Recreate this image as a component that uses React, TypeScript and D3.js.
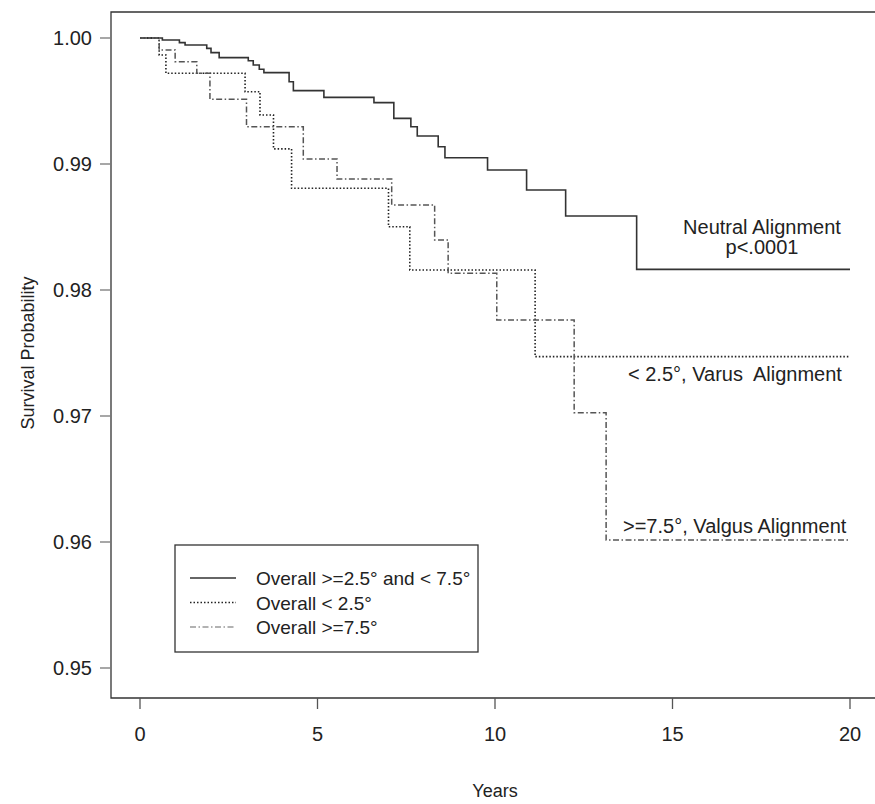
import React from 'react';
import * as d3 from 'd3';

// Kaplan-Meier step points (time in years, survival after the step)
const neutralTimes = [0, 0.63, 1.11, 1.27, 1.88, 2.0, 2.23, 3.05, 3.19, 3.36, 3.49, 4.2, 4.32, 5.18, 6.59, 7.15, 7.63, 7.81, 8.4, 8.59, 9.79, 10.89, 11.99, 13.99, 20];
const neutralSurv = [1, 0.99984, 0.99963, 0.99944, 0.99918, 0.99884, 0.99844, 0.9982, 0.99786, 0.99752, 0.99725, 0.99653, 0.99582, 0.99529, 0.99487, 0.99362, 0.99296, 0.99222, 0.99137, 0.9905, 0.98952, 0.98794, 0.98587, 0.98164, 0.98164];

const varusTimes = [0, 0.54, 0.73, 2.96, 3.38, 3.76, 4.27, 7.0, 7.6, 11.13, 20];
const varusSurv = [1, 0.99865, 0.9972, 0.99574, 0.99389, 0.9912, 0.98807, 0.98502, 0.98159, 0.97471, 0.97471];

const valgusTimes = [0, 0.54, 0.99, 1.6, 1.97, 3.0, 4.6, 5.55, 7.09, 8.3, 8.68, 10.05, 12.23, 13.13, 20];
const valgusSurv = [1, 0.99905, 0.99812, 0.9972, 0.99513, 0.99296, 0.9904, 0.9888, 0.98675, 0.98397, 0.98132, 0.97762, 0.97026, 0.96016, 0.96016];

const xTicks = [0, 5, 10, 15, 20];
const yTicks = [0.95, 0.96, 0.97, 0.98, 0.99, 1.0];

const legendLabels = ['Overall >=2.5\u00b0 and < 7.5\u00b0', 'Overall < 2.5\u00b0', 'Overall >=7.5\u00b0'];

const width = 875;
const height = 804;
const font = '"Liberation Sans", Arial, sans-serif';

const styles = [
  { stroke: '#333', dash: null, w: 1.6 },
  { stroke: '#222', dash: '1.5,2', w: 1.6 },
  { stroke: '#555', dash: '6,2.5,1.5,2.5', w: 1.5 },
];

export default function App() {
  const x = d3.scaleLinear().domain([0, 20]).range([140, 850]);
  const y = d3.scaleLinear().domain([0.95, 1.0]).range([668, 38]);

  const line = d3.line<[number, number]>()
    .x(d => x(d[0]))
    .y(d => y(d[1]))
    .curve(d3.curveStepAfter);

  const series = [
    d3.zip(neutralTimes, neutralSurv) as [number, number][],
    d3.zip(varusTimes, varusSurv) as [number, number][],
    d3.zip(valgusTimes, valgusSurv) as [number, number][],
  ];

  const frameL = 111, frameT = 12, frameB = 698, frameR = 880;

  return (
    <div style={{ position: 'absolute', left: 0, top: 0 }}>
      <svg width={width} height={height} style={{ display: 'block', background: '#fff' }} fontFamily={font}>
        {/* frame */}
        <path d={`M${frameR},${frameT}H${frameL}V${frameB}H${frameR}`} fill="none" stroke="#333" strokeWidth={1.3} />

        {/* y axis */}
        {yTicks.map(t => (
          <g key={t}>
            <line x1={100} x2={frameL} y1={y(t)} y2={y(t)} stroke="#777" strokeWidth={1.3} />
            <text x={92} y={y(t) + 7} textAnchor="end" fontSize={20} fill="#222">{t.toFixed(2)}</text>
          </g>
        ))}
        <text transform={`translate(34,${(y(0.95) + y(1)) / 2}) rotate(-90)`} textAnchor="middle" fontSize={18} fill="#222">Survival Probability</text>

        {/* x axis */}
        {xTicks.map(t => (
          <g key={t}>
            <line x1={x(t)} x2={x(t)} y1={frameB} y2={709} stroke="#555" strokeWidth={1.3} />
            <text x={x(t)} y={741} textAnchor="middle" fontSize={20} fill="#222">{t}</text>
          </g>
        ))}
        <text x={(x(0) + x(20)) / 2} y={797} textAnchor="middle" fontSize={18} fill="#222">Years</text>

        {/* curves */}
        {series.map((s, i) => (
          <path key={i} d={line(s) || ''} fill="none" stroke={styles[i].stroke}
            strokeWidth={styles[i].w} strokeDasharray={styles[i].dash || undefined} />
        ))}

        {/* annotations */}
        <text x={762} y={234} textAnchor="middle" fontSize={20} fill="#222">Neutral Alignment</text>
        <text x={762} y={254} textAnchor="middle" fontSize={20} fill="#222">p&lt;.0001</text>
        <text x={628} y={381} fontSize={20} fill="#222" style={{ whiteSpace: 'pre' }}>{'< 2.5\u00b0, Varus  Alignment'}</text>
        <text x={623} y={533} fontSize={20} fill="#222">{'>=7.5\u00b0, Valgus Alignment'}</text>

        {/* legend */}
        <rect x={175} y={545} width={303} height={107} fill="#fff" stroke="#333" strokeWidth={1.3} />
        {legendLabels.map((lab, i) => {
          const ly = 578 + i * 24.5;
          return (
            <g key={lab}>
              <line x1={190} x2={236} y1={ly} y2={ly} stroke={i === 2 ? '#999' : styles[i].stroke}
                strokeWidth={1.4} strokeDasharray={styles[i].dash || undefined} />
              <text x={256} y={ly + 7} fontSize={19} fill="#222">{lab}</text>
            </g>
          );
        })}
      </svg>
    </div>
  );
}
